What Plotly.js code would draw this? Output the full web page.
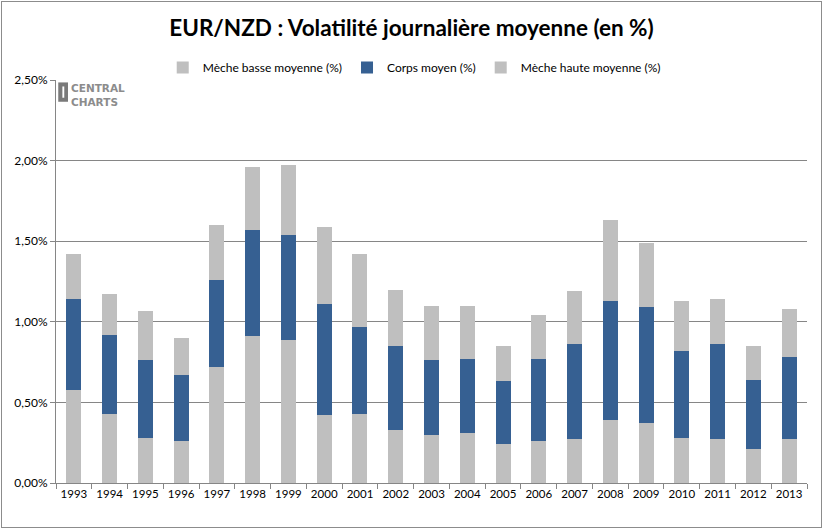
<!DOCTYPE html>
<html>
<head>
<meta charset="utf-8">
<script src="https://cdn.plot.ly/plotly-3.0.1.min.js"></script>
<style>
  body { margin: 0; background: #fff; }
  #plot { position: absolute; left: 1px; top: 1px; width: 819px; height: 525px; border: 1px solid #8c8c8c; }
</style>
</head>
<body>
<div id="plot"></div>
<script>
// years on the x axis
let years = ["1993","1994","1995","1996","1997","1998","1999","2000","2001","2002","2003",
             "2004","2005","2006","2007","2008","2009","2010","2011","2012","2013"];

// average lower wick (%)
let mecheBasse = [0.58,0.43,0.28,0.26,0.72,0.91,0.89,0.42,0.43,0.33,0.30,
                  0.31,0.24,0.26,0.27,0.39,0.37,0.28,0.27,0.21,0.27];

// average body (%)
let corps = [0.56,0.49,0.48,0.41,0.54,0.66,0.65,0.69,0.54,0.52,0.46,
             0.46,0.39,0.51,0.59,0.74,0.72,0.54,0.59,0.43,0.51];

// average upper wick (%)
let mecheHaute = [0.28,0.25,0.31,0.23,0.34,0.39,0.43,0.48,0.45,0.35,0.34,
                  0.33,0.22,0.27,0.33,0.50,0.40,0.31,0.28,0.21,0.30];

let grey = "#BFBFBF";
let blue = "#366092";

let trace1 = {
  x: years, y: mecheBasse, type: "bar",
  name: "Mèche basse moyenne (%)",
  marker: { color: grey }
};
let trace2 = {
  x: years, y: corps, type: "bar",
  name: "Corps moyen (%)",
  marker: { color: blue }
};
let trace3 = {
  x: years, y: mecheHaute, type: "bar",
  name: "Mèche haute moyenne (%)",
  marker: { color: grey }
};

let layout = {
  width: 819,
  height: 525,
  margin: { l: 54, r: 14, t: 78, b: 44 },
  paper_bgcolor: "#fff",
  plot_bgcolor: "#fff",
  barmode: "stack",
  bargap: 0.58,
  separators: ", ",
  font: { family: "Lato, sans-serif", size: 12, color: "#000" },
  title: {
    text: "<b>EUR/NZD : Volatilité journalière moyenne (en %)</b>",
    font: { family: "Lato, sans-serif", size: 22.5, color: "#000" },
    x: 0.5, xanchor: "center",
    y: 0.95, yref: "container", yanchor: "middle"
  },
  showlegend: true,
  legend: {
    orientation: "h",
    x: 0.477, xanchor: "center",
    y: 0.995, yanchor: "bottom",
    font: { size: 12, color: "#000" },
    traceorder: "normal"
  },
  xaxis: {
    type: "category",
    showline: true, linecolor: "#868686", linewidth: 1,
    ticks: "outside", tickson: "boundaries", ticklen: 5, tickcolor: "#868686",
    showgrid: false,
    tickangle: 0,
    tickfont: { size: 11.5 }
  },
  yaxis: {
    range: [0, 2.5],
    dtick: 0.5,
    tickformat: ".2f",
    ticksuffix: "%",
    showline: true, linecolor: "#868686", linewidth: 1,
    ticks: "outside", ticklen: 5, tickcolor: "#868686",
    gridcolor: "#868686", gridwidth: 1,
    zeroline: false,
    tickfont: { size: 12 }
  },
  shapes: [
    // Central Charts logo icon
    { type: "rect", xref: "paper", yref: "paper", x0: 0.003, x1: 0.016, y0: 0.946, y1: 0.994,
      fillcolor: "#7a7a7a", line: { width: 0 } },
    { type: "rect", xref: "paper", yref: "paper", x0: 0.0085, x1: 0.011, y0: 0.956, y1: 0.984,
      fillcolor: "#ffffff", line: { width: 0 } }
  ],
  annotations: [
    { text: "<b>CENTRAL<br>CHARTS</b>", xref: "paper", yref: "paper",
      x: 0.0175, y: 0.999, xanchor: "left", yanchor: "top", align: "left",
      showarrow: false, font: { family: "DejaVu Sans, sans-serif", size: 10.5, color: "#8c8c8c" } }
  ]
};

Plotly.newPlot("plot", [trace1, trace2, trace3], layout, { displayModeBar: false });
</script>
</body>
</html>
